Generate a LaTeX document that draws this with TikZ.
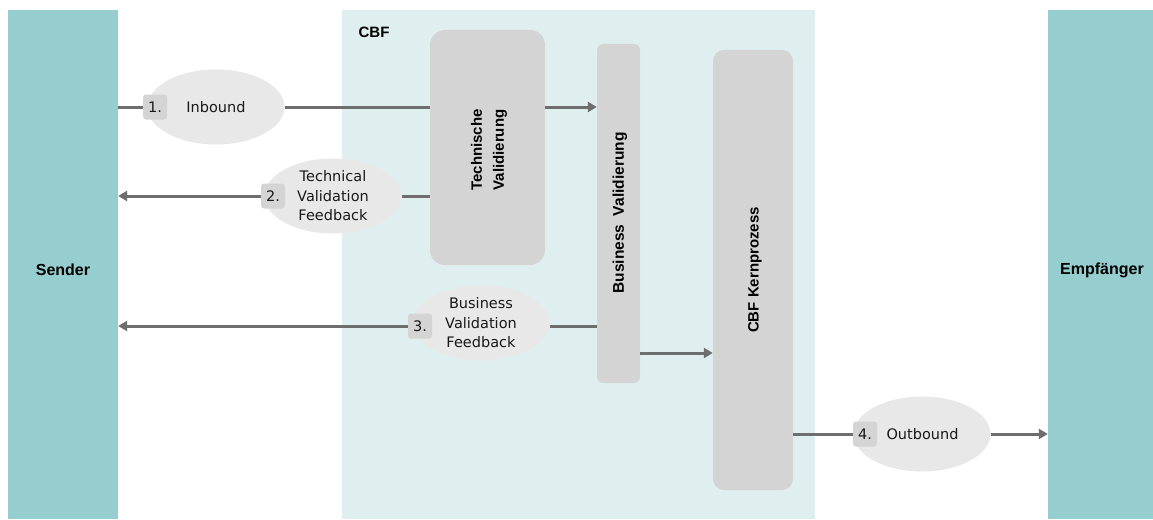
\documentclass[tikz,border=0pt]{standalone}
\usepackage{fontspec}
\setmainfont{DejaVu Sans}
\newfontfamily\boldlab{Liberation Sans}[Scale=1.0]
\usetikzlibrary{arrows.meta,shapes.geometric}
\definecolor{barcol}{HTML}{96CDCE}
\definecolor{cbfbg}{HTML}{DFEFEF}
\definecolor{boxgray}{HTML}{D4D4D4}
\definecolor{ellgray}{HTML}{E8E8E8}
\definecolor{linecol}{HTML}{6E6E6E}
\tikzset{
  bar/.style={fill=barcol, draw=none, inner sep=0pt},
  barlabel/.style={font=\boldlab\bfseries\fontsize{16}{19}\selectfont, text=black},
  procbox/.style={fill=boxgray, draw=none, inner sep=0pt},
  proclabel/.style={font=\boldlab\bfseries\fontsize{15}{22}\selectfont, rotate=90, align=center, text=black},
  bubble/.style={ellipse, fill=ellgray, draw=none, inner sep=0pt, minimum width=137pt, minimum height=75pt,
    font=\fontsize{14.5}{19.5}\selectfont, align=center, text=black!90},
  badge/.style={fill=boxgray, draw=none, rounded corners=3pt, minimum width=24pt, minimum height=25pt, inner sep=0pt,
    font=\fontsize{14.5}{17}\selectfont, text=black!90},
  ln/.style={draw=linecol, line width=3pt},
  arr/.style={-{Triangle[length=9pt,width=10pt]}}
}
\begin{document}
\begin{tikzpicture}[x=1pt,y=-1pt]
\useasboundingbox (0,0) rectangle (1153,519);
\fill[white] (0,0) rectangle (1153,519);

% outer bars
\node[bar, minimum width=110pt, minimum height=509pt] (sender) at (63,264.5) {};
\node[barlabel] (senderlab) at (63,270) {Sender};
\node[bar, minimum width=105pt, minimum height=509pt] (empf) at (1100.5,264.5) {};
\node[barlabel] (empflab) at (1102,270) {Empfänger};

% CBF region
\node[fill=cbfbg, draw=none, inner sep=0pt, minimum width=473pt, minimum height=509pt] (cbf) at (578.5,264.5) {};
\node[barlabel, font=\boldlab\bfseries\fontsize{15}{18}\selectfont] (cbflab) at (374,32) {CBF};

% process boxes
\node[procbox, rounded corners=15pt, minimum width=115pt, minimum height=235pt] (tv) at (487.5,147.5) {};
\node[proclabel] (tvlab) at (489,150) {Technische\\Validierung};
\node[procbox, rounded corners=6pt, minimum width=43pt, minimum height=339pt] (bv) at (618.5,213.5) {};
\node[proclabel, font=\boldlab\bfseries\fontsize{15.5}{22}\selectfont] (bvlab) at (620,213) {Business\ \ Validierung};
\node[procbox, rounded corners=11pt, minimum width=80pt, minimum height=440pt] (kern) at (753,270) {};
\node[proclabel] (kernlab) at (755,270) {CBF Kernprozess};

% bubbles
\node[bubble] (inb) at (216,107) {Inbound};
\node[badge] (b1) at (155,107) {1.};
\node[bubble] (tvf) at (333,196) {Technical\\Validation\\Feedback};
\node[badge] (b2) at (273,196) {2.};
\node[bubble] (bvf) at (481,323) {Business\\Validation\\Feedback};
\node[badge] (b3) at (420,326) {3.};
\node[bubble] (outb) at (922,434) {\hspace*{1pt}Outbound};
\node[badge] (b4) at (865,434) {4.};

% connectors
\draw[ln] (sender.east |- b1) -- (b1.west);
\draw[ln] (inb.east |- b1) -- (tv.west |- b1);
\draw[ln, arr] (tv.east |- b1) -- (bv.west |- b1);

\draw[ln] (tv.west |- b2) -- (tvf.east |- b2);
\draw[ln, arr] (b2.west) -- (sender.east |- b2);

\draw[ln] (bv.west |- b3) -- (bvf.east |- b3);
\draw[ln, arr] (b3.west) -- (sender.east |- b3);

\coordinate (bvk) at (0,353);
\draw[ln, arr] (bv.east |- bvk) -- (kern.west |- bvk);

\draw[ln] (kern.east |- b4) -- (b4.west);
\draw[ln, arr] (outb.east |- b4) -- (empf.west |- b4);
\end{tikzpicture}
\end{document}
